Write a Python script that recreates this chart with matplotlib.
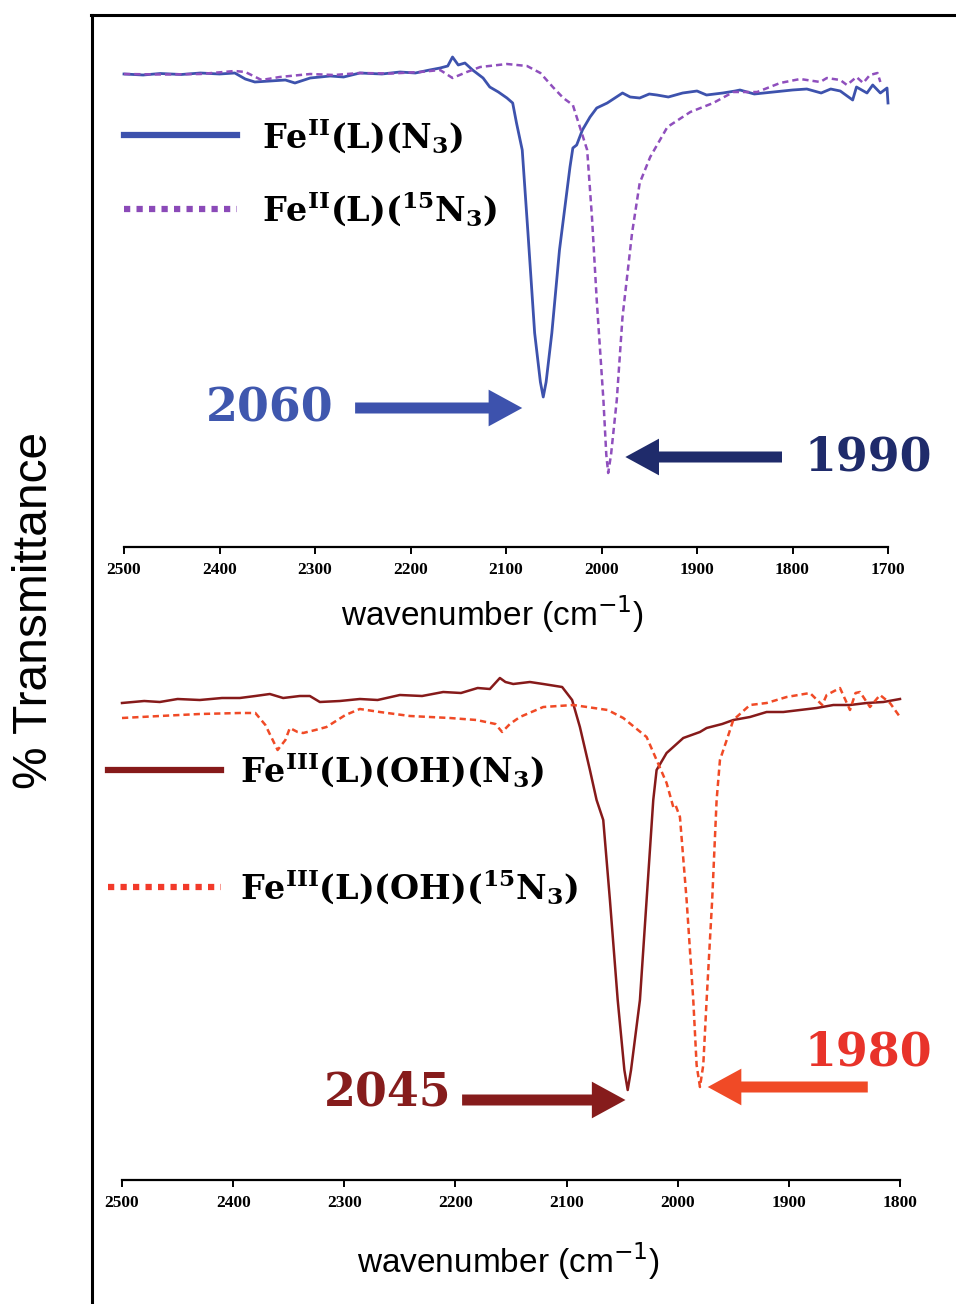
import matplotlib
matplotlib.use('Agg')
import matplotlib.pyplot as plt
from matplotlib.lines import Line2D

plt.rcParams['mathtext.fontset'] = 'dejavuserif'

# ---- Fe(II) spectra (top) : wavenumber (cm-1), %T (arbitrary scale) ----
w_fe2_n3 = [2500, 2480, 2462, 2440, 2420, 2400, 2384, 2373, 2363, 2347, 2331, 2321, 2305,
            2284, 2270, 2253, 2230, 2211, 2195, 2180, 2169, 2161, 2156, 2150, 2143, 2135,
            2124, 2117, 2108, 2099, 2093, 2089, 2083, 2077, 2070, 2064, 2061, 2058, 2052,
            2044, 2033, 2030, 2026, 2020, 2012, 2005, 1994, 1978, 1970, 1960, 1950, 1942,
            1930, 1915, 1900, 1890, 1873, 1860, 1855, 1840, 1820, 1800, 1785, 1770, 1760,
            1750, 1737, 1733, 1722, 1716, 1708, 1701, 1700]
t_fe2_n3 = [94.6, 94.4, 94.7, 94.5, 94.8, 94.6, 94.8, 93.6, 93.0, 93.2, 93.4, 92.8, 93.8,
            94.2, 94.0, 94.8, 94.6, 95.0, 94.8, 95.4, 95.8, 96.2, 98.0, 96.4, 96.8, 95.4,
            93.8, 92.0, 91.0, 89.8, 88.8, 84.8, 79.4, 62.8, 42.8, 33.0, 30.0, 33.0, 42.8,
            59.4, 76.0, 79.8, 80.4, 83.4, 86.0, 87.8, 88.8, 90.8, 90.0, 89.8, 90.6, 90.4,
            90.0, 90.8, 91.2, 90.4, 90.8, 91.2, 91.4, 90.6, 91.0, 91.4, 91.6, 90.8, 91.6,
            91.2, 89.4, 92.0, 90.8, 92.4, 90.8, 91.8, 88.8]

w_fe2_15n3 = [2500, 2460, 2420, 2384, 2373, 2356, 2337, 2305, 2280, 2253, 2220, 2190, 2169,
              2156, 2141, 2127, 2099, 2078, 2064, 2051, 2040, 2030, 2026, 2015, 2010, 2005,
              1998, 1995, 1993, 1990, 1984, 1978, 1968, 1960, 1949, 1931, 1907, 1883, 1862,
              1837, 1813, 1792, 1771, 1764, 1750, 1743, 1733, 1726, 1719, 1711, 1708]
t_fe2_15n3 = [94.6, 94.5, 94.6, 95.2, 95.0, 93.4, 94.0, 94.6, 94.4, 94.8, 94.7, 95.0, 95.4,
              93.8, 95.0, 96.0, 96.6, 96.2, 94.8, 92.0, 89.8, 88.4, 86.0, 79.4, 66.0, 49.4,
              29.4, 18.5, 14.8, 18.5, 29.4, 46.0, 62.8, 72.8, 78.0, 84.0, 87.0, 88.8, 91.0,
              91.0, 92.8, 93.6, 93.0, 93.8, 93.4, 92.4, 94.0, 92.8, 94.4, 94.8, 93.0]

# ---- Fe(III) spectra (bottom) ----
w_fe3_n3 = [2500, 2480, 2466, 2450, 2430, 2410, 2394, 2380, 2367, 2355, 2340, 2331, 2322,
            2304, 2286, 2270, 2250, 2230, 2211, 2195, 2180, 2169, 2160, 2155, 2148, 2133,
            2121, 2104, 2095, 2088, 2079, 2073, 2067, 2061, 2054, 2048, 2045, 2042, 2034,
            2028, 2022, 2019, 2010, 1995, 1980, 1974, 1960, 1950, 1935, 1920, 1905, 1890,
            1875, 1860, 1845, 1830, 1815, 1800]
t_fe3_n3 = [95.4, 95.8, 95.6, 96.2, 96.0, 96.4, 96.4, 96.8, 97.2, 96.4, 96.8, 96.8, 95.6,
            95.8, 96.2, 96.0, 97.0, 96.8, 97.6, 97.4, 98.4, 98.2, 100.4, 99.6, 99.2, 99.6,
            99.2, 98.6, 96.0, 90.6, 82.0, 76.0, 72.0, 56.0, 36.0, 22.0, 18.0, 22.0, 36.0,
            56.0, 76.0, 82.0, 85.4, 88.4, 89.6, 90.4, 91.2, 92.0, 92.6, 93.6, 93.6, 94.0,
            94.4, 95.0, 95.0, 95.4, 95.6, 96.2]

w_fe3_15n3 = [2500, 2466, 2430, 2394, 2380, 2371, 2360, 2353, 2349, 2342, 2337, 2326, 2316,
              2299, 2286, 2268, 2241, 2205, 2181, 2164, 2158, 2151, 2142, 2121, 2094, 2063,
              2049, 2028, 2019, 2010, 2004, 2002, 1998, 1992, 1986, 1983, 1980, 1977, 1974,
              1969, 1965, 1962, 1955, 1950, 1935, 1920, 1902, 1881, 1870, 1866, 1854, 1845,
              1840, 1836, 1827, 1818, 1809, 1800]
t_fe3_15n3 = [92.4, 92.8, 93.2, 93.4, 93.4, 91.0, 86.0, 88.0, 90.4, 89.6, 89.4, 90.0, 90.6,
              93.0, 94.2, 93.6, 92.8, 92.4, 92.0, 91.2, 89.6, 91.2, 92.6, 94.6, 95.0, 94.0,
              92.4, 88.6, 84.0, 79.4, 74.6, 75.0, 72.6, 56.0, 36.0, 23.0, 18.6, 23.0, 36.0,
              56.0, 76.0, 84.0, 88.6, 92.0, 95.0, 95.4, 96.6, 97.4, 95.0, 97.0, 98.4, 94.0,
              97.4, 97.6, 94.6, 97.0, 95.4, 92.6]

top_ticks = [2500, 2400, 2300, 2200, 2100, 2000, 1900, 1800, 1700]
bot_ticks = [2500, 2400, 2300, 2200, 2100, 2000, 1900, 1800]

lab_fe2 = [r'Fe$^{\mathregular{II}}$(L)(N$_{\mathbf{3}}$)',
           r'Fe$^{\mathregular{II}}$(L)($^{\mathregular{15}}$N$_{\mathbf{3}}$)']
lab_fe3 = [r'Fe$^{\mathregular{III}}$(L)(OH)(N$_{\mathbf{3}}$)',
           r'Fe$^{\mathregular{III}}$(L)(OH)($^{\mathregular{15}}$N$_{\mathbf{3}}$)']

c_blue = '#3d52ad'
c_purple = '#8f4fbd'
c_dred = '#861a1a'
c_orange = '#f04a26'

W, H = 956, 1304
fig = plt.figure(figsize=(W / 100, H / 100), dpi=100)

ax1 = fig.add_axes([124 / W, 1 - 547 / H, 764 / W, 527 / H])
ax2 = fig.add_axes([122 / W, 1 - 1180 / H, 778 / W, 530 / H])

ax1.plot(w_fe2_n3, t_fe2_n3, color=c_blue, lw=2.0, label=lab_fe2[0], clip_on=False)
ax1.plot(w_fe2_15n3, t_fe2_15n3, color=c_purple, lw=1.8, ls=(0, (2.5, 1.6)),
         label=lab_fe2[1], clip_on=False)
ax2.plot(w_fe3_n3, t_fe3_n3, color=c_dred, lw=1.8, label=lab_fe3[0], clip_on=False)
ax2.plot(w_fe3_15n3, t_fe3_15n3, color=c_orange, lw=1.8, ls=(0, (2.5, 1.6)),
         label=lab_fe3[1], clip_on=False)

for ax, ticks, lim in [(ax1, top_ticks, (0, 105.4)), (ax2, bot_ticks, (0, 106))]:
    ax.set_xlim(ticks[0], ticks[-1])
    ax.set_ylim(*lim)
    ax.set_xticks(ticks)
    ax.set_yticks([])
    for s in ['left', 'right', 'top']:
        ax.spines[s].set_visible(False)
    ax.spines['bottom'].set_linewidth(1.6)
    ax.tick_params(axis='x', direction='out', length=5, width=1.4, pad=6)
    for t in ax.get_xticklabels():
        t.set_fontfamily('Liberation Serif')
        t.set_fontweight('bold')
        t.set_fontsize(12.5)
    ax.set_xlabel(r'wavenumber (cm$^{\mathsf{-1}}$)', fontfamily='Liberation Sans',
                  fontsize=24)
    ax.patch.set_alpha(0)

ax1.xaxis.set_label_coords((492 - 124) / 764, -(594 - 547) / 527)
ax2.xaxis.set_label_coords((508 - 122) / 778, -(1241 - 1180) / 530)

# legends
leg_font = {'family': 'DejaVu Serif', 'weight': 'bold', 'size': 24}
leg1 = ax1.legend(loc='center left', bbox_to_anchor=(124 / W, 1 - 172 / H),
                  bbox_transform=fig.transFigure, frameon=False, prop=leg_font,
                  handlelength=3.4, handletextpad=0.75, labelspacing=1.05,
                  borderpad=0, borderaxespad=0)
leg2 = ax2.legend(loc='center left', bbox_to_anchor=(108 / W, 1 - 828 / H),
                  bbox_transform=fig.transFigure, frameon=False, prop=leg_font,
                  handlelength=3.4, handletextpad=0.55, labelspacing=2.35,
                  borderpad=0, borderaxespad=0)
for leg, dotted in [(leg1, '#8b4ab8'), (leg2, '#f23a2a')]:
    hs = leg.legend_handles
    hs[0].set_linewidth(4.5)
    hs[1].set_linewidth(4.5)
    hs[1].set_linestyle((0, (1, 1)))
    hs[1].set_color(dotted)

# peak annotations
num_font = dict(family='DejaVu Serif', weight='bold', fontsize=33, ha='center', va='center')
arrow = dict(arrowstyle='simple,head_length=1.1,head_width=1.2,tail_width=0.36',
             mutation_scale=22, lw=0, shrinkA=0, shrinkB=0)

ax1.text(2347, 27.8, '2060', color='#3f57ae', **num_font)
ax1.annotate('', xy=(2083, 27.8), xytext=(2258, 27.8),
             arrowprops=dict(arrow, color=c_blue))
ax1.text(1721, 18.0, '1990', color='#1f2b6b', **num_font)
ax1.annotate('', xy=(1975, 18.0), xytext=(1811, 18.0),
             arrowprops=dict(arrow, color='#1f2b6b'))

ax2.text(2261, 17.4, '2045', color='#861c1c', **num_font)
ax2.annotate('', xy=(2047, 16.0), xytext=(2194, 16.0),
             arrowprops=dict(arrow, color='#861c1c'))
ax2.text(1829, 25.4, '1980', color='#e8332a', **num_font)
ax2.annotate('', xy=(1973, 18.6), xytext=(1829, 18.6),
             arrowprops=dict(arrow, color=c_orange))

# frame and y label
fig.add_artist(Line2D([92 / W, 92 / W], [0, 1 - 15 / H], color='black', lw=2.2,
                      transform=fig.transFigure))
fig.add_artist(Line2D([91 / W, 1], [1 - 15 / H, 1 - 15 / H], color='black', lw=2.2,
                      transform=fig.transFigure))
fig.text(35 / W, 1 - 610 / H, '% Transmittance', rotation=90, ha='center', va='center',
         fontfamily='Liberation Sans', fontsize=34.5)

fig.savefig('out.png', dpi=100)
